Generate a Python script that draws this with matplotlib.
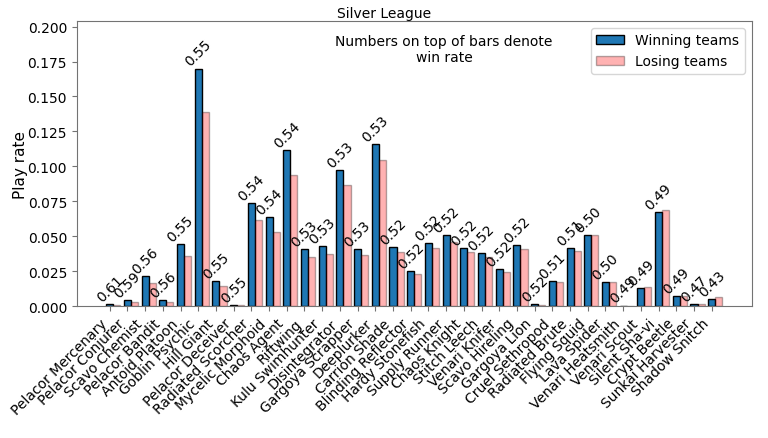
import matplotlib
matplotlib.use("Agg")
import matplotlib.pyplot as plt
import numpy as np

cards = ['Pelacor Mercenary', 'Pelacor Conjurer', 'Scavo Chemist', 'Pelacor Bandit',
         'Antoid Platoon', 'Goblin Psychic', 'Hill Giant', 'Pelacor Deceiver',
         'Radiated Scorcher', 'Mycelic Morphoid', 'Chaos Agent', 'Riftwing',
         'Kulu Swimhunter', 'Disintegrator', 'Gargoya Scrapper', 'Deeplurker',
         'Carrion Shade', 'Blinding Reflector', 'Hardy Stonefish', 'Supply Runner',
         'Chaos Knight', 'Stitch Leech', 'Venari Knifer', 'Scavo Hireling',
         'Gargoya Lion', 'Cruel Sethropod', 'Radiated Brute', 'Flying Squid',
         'Lava Spider', 'Venari Heatsmith', 'Venari Scout', 'Silent Sha-vi',
         'Crypt Beetle', 'Sunkai Harvester', 'Shadow Snitch']
win_play = [0.0019, 0.0045, 0.0219, 0.0045, 0.0445, 0.170, 0.0179, 0.0010,
            0.0740, 0.0638, 0.1117, 0.0407, 0.0431, 0.0976, 0.0407, 0.1157,
            0.0426, 0.0252, 0.0450, 0.0510, 0.0419, 0.0379, 0.0264, 0.0440,
            0.0014, 0.0183, 0.0419, 0.0512, 0.0171, 0.0005, 0.0133, 0.0674,
            0.0074, 0.0017, 0.0050]
lose_play = [0.0010, 0.0030, 0.0170, 0.0030, 0.0357, 0.1386, 0.0148, 0.0007,
             0.0620, 0.0533, 0.0938, 0.0355, 0.0374, 0.0869, 0.0369, 0.1048,
             0.0386, 0.0229, 0.0414, 0.0462, 0.0386, 0.0352, 0.0245, 0.0412,
             0.0007, 0.0174, 0.0398, 0.0510, 0.0171, 0.0002, 0.0138, 0.0690,
             0.0076, 0.0019, 0.0067]
win_rate = [0.61, 0.59, 0.56, 0.56, 0.55, 0.55, 0.55, 0.55, 0.54, 0.54, 0.54,
            0.53, 0.53, 0.53, 0.53, 0.53, 0.52, 0.52, 0.52, 0.52, 0.52, 0.52,
            0.52, 0.52, 0.52, 0.51, 0.51, 0.50, 0.50, 0.49, 0.49, 0.49, 0.49,
            0.47, 0.43]

fs = 10
x = np.arange(len(cards))
w = 0.4

fig = plt.figure(figsize=(7.68, 4.39), dpi=100)
ax = fig.add_axes([0.100, 0.300, 0.879, 0.650])

win_bars = ax.bar(x, win_play, w, color='#1f77b4', edgecolor='black', label='Winning teams')
ax.bar(x + w, lose_play, w, color='red', alpha=0.3, edgecolor='black', label='Losing teams')
ax.bar_label(win_bars, labels=[f"{r:.2f}" for r in win_rate], rotation=45, fontsize=fs)

ax.set_xticks(x)
ax.set_xticklabels(cards, rotation=45, ha='right', fontsize=fs)
ax.tick_params(axis='y', labelsize=fs)
ax.set_xlim(-1.86, 36.27)
ax.set_ylim(0, 0.204)
ax.set_ylabel('Play rate', fontsize=11)
ax.yaxis.set_label_coords(-0.072, 0.5)
fig.suptitle('Silver League', fontsize=fs, y=0.985)
for s in ax.spines.values():
    s.set_color('0.45')
ax.tick_params(color='0.45')

ax.text(0.544, 0.955, 'Numbers on top of bars denote\nwin rate', transform=ax.transAxes,
        ha='center', va='top', fontsize=fs)
ax.legend(loc='upper right', fontsize=fs)

fig.savefig('out.png', dpi=100)
